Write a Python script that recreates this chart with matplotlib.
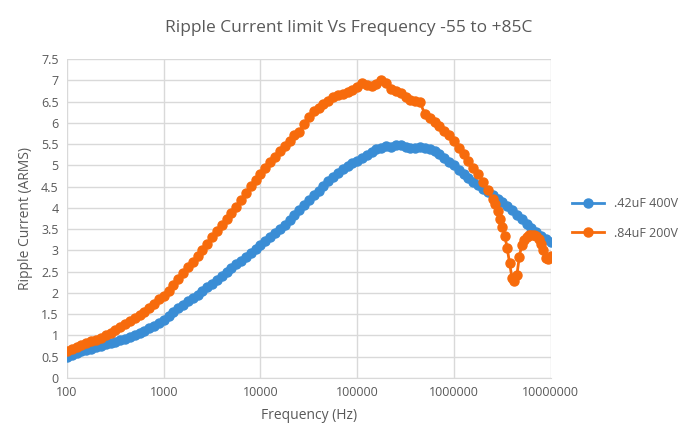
import matplotlib.pyplot as plt
from matplotlib.ticker import FixedLocator, FuncFormatter

# frequency sweep (Hz), shared by the .42uF trace
freq_blue = [100, 112, 126, 141, 158, 178, 200, 224, 251, 282,
             316, 355, 398, 447, 501, 562, 631, 708, 794, 891,
             1000, 1120, 1260, 1410, 1580, 1780, 2000, 2240, 2510, 2820,
             3160, 3550, 3980, 4470, 5010, 5620, 6310, 7080, 7940, 8910,
             10000, 11200, 12600, 14100, 15800, 17800, 20000, 22400, 25100, 28200,
             31600, 35500, 39800, 44700, 50100, 56200, 63100, 70800, 79400, 89100,
             100000, 112000, 126000, 141000, 158000, 178000, 200000, 224000, 251000, 282000,
             316000, 355000, 398000, 447000, 501000, 562000, 631000, 708000, 794000, 891000,
             1000000, 1120000, 1260000, 1410000, 1580000, 1780000, 2000000, 2240000, 2510000, 2820000,
             3160000, 3550000, 3980000, 4470000, 5010000, 5620000, 6310000, 7080000, 7940000, 8910000,
             10000000]
ripple_blue = [0.50, 0.55, 0.59, 0.63, 0.66, 0.69, 0.72, 0.75, 0.79, 0.82,
               0.85, 0.89, 0.92, 0.96, 1.01, 1.06, 1.11, 1.17, 1.23, 1.30,
               1.37, 1.45, 1.55, 1.64, 1.72, 1.80, 1.88, 1.96, 2.05, 2.13,
               2.22, 2.31, 2.40, 2.49, 2.58, 2.67, 2.76, 2.85, 2.94, 3.03,
               3.12, 3.22, 3.31, 3.41, 3.51, 3.61, 3.72, 3.83, 3.95, 4.07,
               4.19, 4.30, 4.41, 4.52, 4.63, 4.73, 4.83, 4.91, 4.98, 5.05,
               5.11, 5.18, 5.25, 5.31, 5.38, 5.42, 5.45, 5.44, 5.48, 5.47,
               5.43, 5.40, 5.42, 5.44, 5.41, 5.38, 5.33, 5.26, 5.18, 5.09,
               5.00, 4.90, 4.80, 4.71, 4.62, 4.53, 4.45, 4.37, 4.30, 4.21,
               4.13, 4.04, 3.95, 3.84, 3.73, 3.63, 3.53, 3.43, 3.34, 3.27,
               3.20]

# .84uF trace, denser around the resonance dip
freq_orange = [100, 112, 126, 141, 158, 178, 200, 224, 251, 282,
               316, 355, 398, 447, 501, 562, 631, 708, 794, 891,
               1000, 1120, 1260, 1410, 1580, 1780, 2000, 2240, 2510, 2820,
               3160, 3550, 3980, 4470, 5010, 5620, 6310, 7080, 7940, 8910,
               10000, 11200, 12600, 14100, 15800, 17800, 20000, 22400, 25100, 28200,
               31600, 35500, 39800, 44700, 50100, 56200, 63100, 70800, 79400, 89100,
               100000, 112000, 126000, 141000, 158000, 178000, 200000, 224000, 251000, 282000,
               316000, 355000, 398000, 447000, 501000, 562000, 631000, 708000, 794000, 891000,
               1000000, 1120000, 1260000, 1410000, 1580000, 1780000, 2000000, 2240000, 2510000, 2661000,
               2820000, 2985000, 3160000, 3350000, 3550000, 3758000, 3980000, 4217000, 4470000, 4732000,
               5010000, 5309000, 5620000, 5957000, 6310000, 6683000, 7080000, 7499000, 7940000, 8414000,
               8910000, 9441000, 10000000]
ripple_orange = [0.64, 0.69, 0.74, 0.78, 0.82, 0.86, 0.90, 0.95, 1.00, 1.06,
                 1.12, 1.19, 1.27, 1.34, 1.41, 1.48, 1.56, 1.65, 1.75, 1.85,
                 1.94, 2.05, 2.19, 2.33, 2.46, 2.60, 2.74, 2.88, 3.02, 3.16,
                 3.31, 3.46, 3.61, 3.75, 3.89, 4.03, 4.19, 4.35, 4.51, 4.66,
                 4.80, 4.93, 5.07, 5.20, 5.33, 5.46, 5.58, 5.72, 5.78, 5.98,
                 6.13, 6.27, 6.36, 6.44, 6.52, 6.61, 6.66, 6.69, 6.73, 6.78,
                 6.85, 6.95, 6.88, 6.86, 6.92, 7.00, 6.95, 6.80, 6.76, 6.70,
                 6.62, 6.55, 6.52, 6.48, 6.20, 6.12, 6.02, 5.92, 5.80, 5.72,
                 5.57, 5.42, 5.27, 5.10, 4.95, 4.79, 4.62, 4.42, 4.22, 4.10,
                 3.92, 3.75, 3.55, 3.35, 3.05, 2.70, 2.35, 2.27, 2.42, 2.85,
                 3.12, 3.25, 3.32, 3.36, 3.37, 3.36, 3.33, 3.27, 3.15, 3.02,
                 2.82, 2.80, 2.86]

labels = ['.42uF 400V', '.84uF 200V']
colors = ['#3a8dd5', '#f76b0c']
y_ticks = [0, 0.5, 1, 1.5, 2, 2.5, 3, 3.5, 4, 4.5, 5, 5.5, 6, 6.5, 7, 7.5]
x_ticks = [100, 1000, 10000, 100000, 1000000, 10000000]

plt.rcParams['font.family'] = ['Open Sans', 'DejaVu Sans']
text_grey = '#595959'

fig = plt.figure(figsize=(6.98, 4.38), dpi=100)
ax = fig.add_axes([0.096, 0.137, 0.693, 0.728])

ax.plot(freq_blue, ripple_blue, '-o', color=colors[0], lw=2, ms=6.5,
        label=labels[0], zorder=3)
ax.plot(freq_orange, ripple_orange, '-o', color=colors[1], lw=2, ms=6.5,
        label=labels[1], zorder=4)

ax.set_xscale('log')
ax.set_xlim(100, 10000000)
ax.set_ylim(0, 7.5)
ax.xaxis.set_major_locator(FixedLocator(x_ticks))
ax.xaxis.set_minor_locator(FixedLocator([]))
ax.xaxis.set_major_formatter(FuncFormatter(lambda v, p: f'{int(round(v))}'))
ax.yaxis.set_major_locator(FixedLocator(y_ticks))
ax.yaxis.set_major_formatter(FuncFormatter(lambda v, p: f'{v:g}'))

ax.grid(True, color='#d9d9d9', lw=1)
ax.set_axisbelow(True)
for s in ['top', 'right', 'left']:
    ax.spines[s].set_visible(False)
ax.spines['bottom'].set_color('#d9d9d9')
ax.tick_params(length=0, labelsize=9, colors=text_grey, pad=6)

ax.set_xlabel('Frequency (Hz)', fontsize=10, color=text_grey, labelpad=6)
ax.set_ylabel('Ripple Current (ARMS)', fontsize=10, color=text_grey, labelpad=6)
fig.suptitle('Ripple Current limit Vs Frequency -55 to +85C', fontsize=12.5,
             color=text_grey, x=0.5, y=0.955)

leg = ax.legend(loc='center left', bbox_to_anchor=(1.02, 0.5), frameon=False,
                fontsize=9, labelcolor=text_grey, handlelength=2.6,
                labelspacing=1.3)

fig.savefig('out.png', dpi=100)
